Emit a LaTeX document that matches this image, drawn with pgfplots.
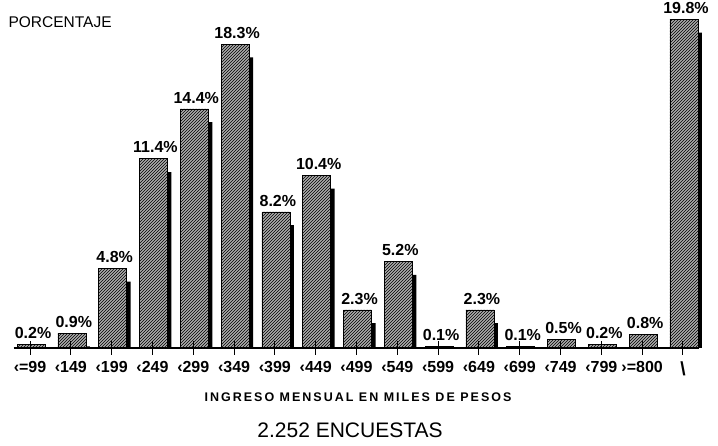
\documentclass[border=0pt]{standalone}
\usepackage{fontspec}
\setmainfont{Liberation Sans}
\newfontfamily\spaced[LetterSpace=16]{Liberation Sans}
\usepackage{graphicx}
\usepackage{pgfplots}
\pgfplotsset{compat=1.18}
\usetikzlibrary{patterns}
\begin{document}
\begin{tikzpicture}[x=1pt,y=1pt]
\useasboundingbox (0,0) rectangle (718,446);
\begin{axis}[
  at={(13.7pt,98pt)}, anchor=south west,
  scale only axis, width=685.6pt, height=332pt,
  xmin=-0.4, xmax=16.4, ymin=0, ymax=20,
  clip=false,
  axis x line=bottom, axis y line=none,
  x axis line style={-, line width=1.5pt},
  xtick={0,...,16},
  xticklabels={‹=99,‹149,‹199,‹249,‹299,‹349,‹399,‹449,‹499,‹549,‹599,‹649,‹699,‹749,‹799,›=800,{\fontsize{19}{19}\selectfont\textbackslash}},
  xticklabel style={font=\fontsize{16}{16}\selectfont\bfseries, yshift=-3pt},
  tick align=center, major tick length=14pt,
  x tick style={line width=1pt, black},
  axis on top,
  point meta=explicit symbolic,
]
% shadow
\addplot[ybar, bar width=28pt, bar shift=5pt, fill=black, draw=none] coordinates {
(1,0.1) (2,4.0) (3,10.6) (4,13.6) (5,17.5) (6,7.4) (7,9.6) (8,1.5) (9,4.4) (11,1.5) (16,19.0)
};
% front bars
\addplot[ybar, bar width=28pt, bar shift=1pt, fill=gray!65, draw=black, line width=0.6pt,
  postaction={pattern=north east lines, pattern color=black},
  nodes near coords,
  every node near coord/.append style={font=\fontsize{16}{16}\selectfont\bfseries, xshift=3pt, yshift=2pt, text=black}] coordinates {
(0,0.2) [0.2\%]
(1,0.9) [0.9\%]
(2,4.8) [4.8\%]
(3,11.4) [11.4\%]
(4,14.4) [14.4\%]
(5,18.3) [18.3\%]
(6,8.2) [8.2\%]
(7,10.4) [10.4\%]
(8,2.3) [2.3\%]
(9,5.2) [5.2\%]
(10,0.1) [0.1\%]
(11,2.3) [2.3\%]
(12,0.1) [0.1\%]
(13,0.5) [0.5\%]
(14,0.2) [0.2\%]
(15,0.8) [0.8\%]
(16,19.8) [19.8\%]
};
\end{axis}
\node[anchor=west, font=\fontsize{15.5}{15.5}\selectfont] at (5,424) {PORCENTAJE};
\node[font=\spaced\fontsize{12.5}{12.5}\selectfont\bfseries] at (358,49) {INGRESO MENSUAL EN MILES DE PESOS};
\node[font=\fontsize{21}{21}\selectfont] at (350,16) {2.252 ENCUESTAS};
\end{tikzpicture}
\end{document}
